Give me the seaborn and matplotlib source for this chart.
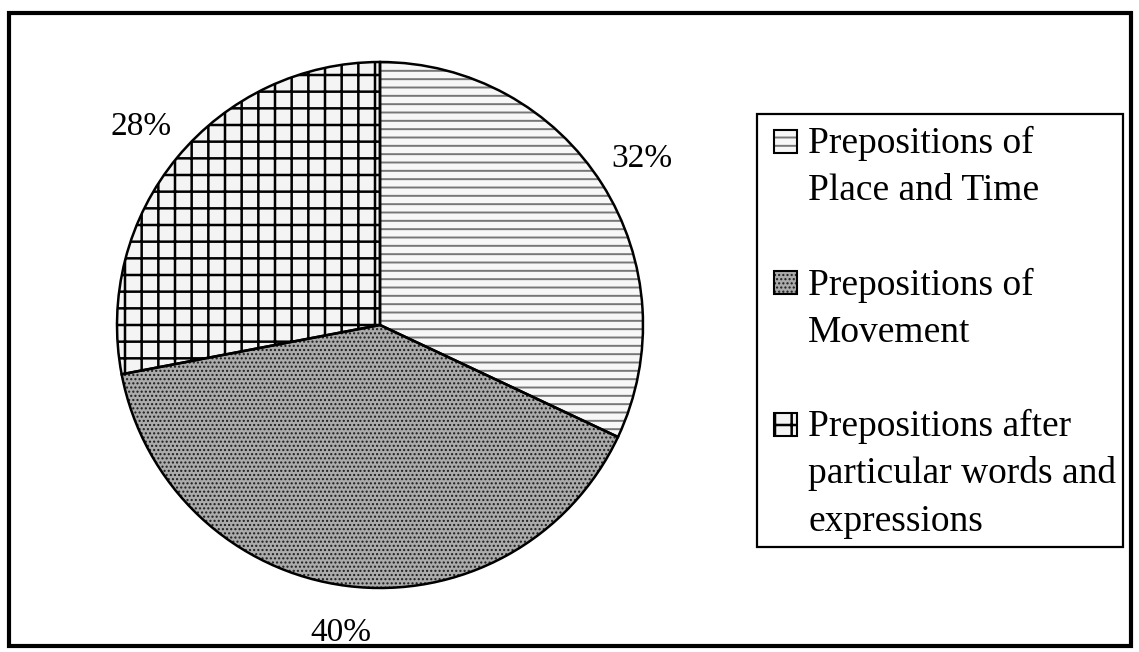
import matplotlib
matplotlib.use('Agg')
import matplotlib.pyplot as plt
import seaborn as sns
from matplotlib.patches import Rectangle

categories = ["Prepositions of\nPlace and Time",
              "Prepositions of\nMovement",
              "Prepositions after\nparticular words and\nexpressions"]
shares = [32, 40, 28]
hatches = ["--", "....", "+"]
fills = ["#f7f7f7", "#ababab", "#f4f4f4"]
hatch_colors = ["#777777", "#1c1c1c", "black"]
hatch_widths = [1.4, 1.0, 1.8]

sns.set_style("white")
plt.rcParams['font.family'] = ['Liberation Serif', 'DejaVu Serif']
plt.rcParams['text.color'] = 'black'

W, H = 1139, 652
fig = plt.figure(figsize=(W / 100, H / 100), dpi=100)


def fx(x):
    return x / W


def fy(y):
    return 1 - y / H


cx, cy, r = 380, 325, 263
ax = fig.add_axes([fx(cx - r), fy(cy + r), 2 * r / W, 2 * r / H])


def styled(patch, i):
    patch.set_facecolor(fills[i])
    patch.set_edgecolor(hatch_colors[i])
    patch.set_linewidth(0)
    patch.set_hatch(hatches[i])
    if hasattr(patch, "set_hatch_linewidth"):
        patch.set_hatch_linewidth(hatch_widths[i])


# filled + hatched wedges
wedges, _ = ax.pie(shares, startangle=90, counterclock=False)
for i, w in enumerate(wedges):
    styled(w, i)

# outlines + percentage labels
ax.pie(shares, startangle=90, counterclock=False,
       wedgeprops=dict(fill=False, edgecolor="black", linewidth=1.8),
       autopct="%d%%", pctdistance=1.18,
       textprops=dict(fontsize=24, color="black"))
ax.set_xlim(-1, 1)
ax.set_ylim(-1, 1)
for t in ax.texts:
    t.set_clip_on(False)

# legend drawn by hand so the key sits on the first line of each label
fig.patches.append(Rectangle((fx(757), fy(547)), 366 / W, 433 / H,
                             transform=fig.transFigure, fill=False,
                             edgecolor="black", linewidth=1.6))
line_h = 47.2
base = 153
for i, label in enumerate(categories):
    lines = label.split("\n")
    key_y = base - 12
    key = Rectangle((fx(774), fy(key_y + 11.5)), 23 / W, 23 / H,
                    transform=fig.transFigure)
    styled(key, i)
    fig.patches.append(key)
    fig.patches.append(Rectangle((fx(774), fy(key_y + 11.5)), 23 / W, 23 / H,
                                 transform=fig.transFigure, fill=False,
                                 edgecolor="black", linewidth=1.5))
    for ln in lines:
        fig.text(fx(808), fy(base), ln, fontsize=27, va="baseline", ha="left",
                 color="black")
        base += line_h
    base += line_h

# outer frame
fig.patches.append(Rectangle((fx(9), fy(646)), 1122 / W, 633 / H,
                             transform=fig.transFigure, fill=False,
                             edgecolor="black", linewidth=3))

fig.savefig("out.png", dpi=100)
